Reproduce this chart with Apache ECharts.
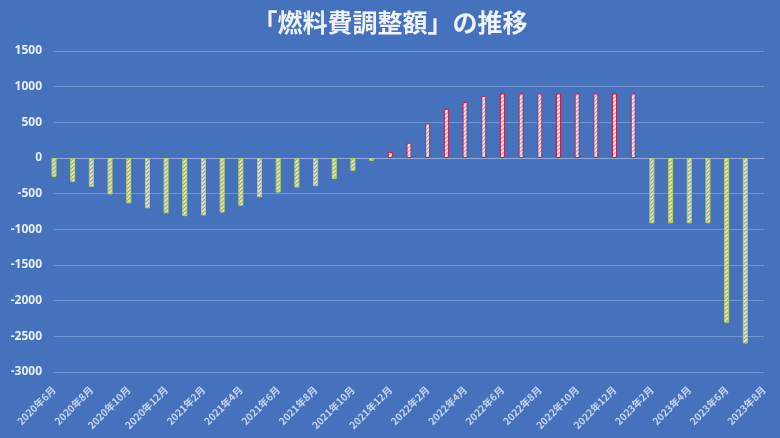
<!DOCTYPE html>
<html>
<head>
<meta charset="utf-8">
<script src="https://cdn.jsdelivr.net/npm/echarts@6/dist/echarts.min.js"></script>
<style>
html,body{margin:0;padding:0;background:#4672bd;}
#c{width:780px;height:438px;}
</style>
</head>
<body>
<div id="c"></div>
<script>
const categories = [
  '2020年6月','2020年7月','2020年8月','2020年9月','2020年10月','2020年11月','2020年12月',
  '2021年1月','2021年2月','2021年3月','2021年4月','2021年5月','2021年6月','2021年7月','2021年8月','2021年9月','2021年10月','2021年11月','2021年12月',
  '2022年1月','2022年2月','2022年3月','2022年4月','2022年5月','2022年6月','2022年7月','2022年8月','2022年9月','2022年10月','2022年11月','2022年12月',
  '2023年1月','2023年2月','2023年3月','2023年4月','2023年5月','2023年6月','2023年7月','2023年8月'
];
// 2020年6月 … 2020年12月
const adj2020 = [-265, -335, -405, -510, -635, -705, -775];
// 2021年1月 … 2021年12月
const adj2021 = [-815, -805, -765, -670, -550, -485, -415, -395, -295, -180, -40, 85];
// 2022年1月 … 2022年12月
const adj2022 = [215, 485, 690, 785, 870, 905, 905, 905, 905, 905, 905, 905];
// 2023年1月 … 2023年8月
const adj2023 = [905, -915, -915, -915, -915, -2310, -2600, null];
const adjustment = adj2020.concat(adj2021, adj2022, adj2023);
const yTicks = { min: -3000, max: 1500, interval: 500 };
const titleText = '「燃料費調整額」の推移';

function stripes(bg, line) {
  const c = document.createElement('canvas');
  c.width = 4; c.height = 4;
  const g = c.getContext('2d');
  g.fillStyle = bg; g.fillRect(0, 0, 4, 4);
  g.strokeStyle = line; g.lineWidth = 1.3;
  g.beginPath();
  g.moveTo(-1, 5); g.lineTo(5, -1);
  g.moveTo(-1, 1); g.lineTo(1, -1);
  g.moveTo(3, 5); g.lineTo(5, 3);
  g.stroke();
  return { image: c, repeat: 'repeat' };
}

const negData = adjustment.map(v => (v !== null && v < 0) ? v : null);
const posData = adjustment.map(v => (v !== null && v >= 0) ? v : null);

const chart = echarts.init(document.getElementById('c'), null, { renderer: 'canvas' });
chart.setOption({
  backgroundColor: '#4672bd',
  animation: false,
  title: {
    text: titleText,
    left: 'center',
    top: 5,
    textStyle: { color: '#eef2fa', fontSize: 25, fontWeight: 'bold', fontFamily: 'Noto Sans CJK JP' }
  },
  grid: { left: 54, right: 16, top: 51, bottom: 66, containLabel: false },
  xAxis: {
    type: 'category',
    data: categories,
    boundaryGap: false,
    axisLine: { onZero: true, lineStyle: { color: '#8fabdc', width: 1 } },
    axisTick: { show: false },
    splitLine: { show: false },
    axisLabel: {
      interval: 1,
      rotate: 45,
      color: '#c6d4ee',
      fontSize: 10,
      fontWeight: 'bold',
      fontFamily: 'Noto Sans CJK JP',
      margin: 16
    }
  },
  yAxis: {
    type: 'value',
    min: yTicks.min,
    max: yTicks.max,
    interval: yTicks.interval,
    axisLine: { show: false },
    axisTick: { show: false },
    splitLine: { lineStyle: { color: '#7396d3', width: 1 } },
    axisLabel: {
      color: '#e8eef8',
      fontSize: 12,
      fontWeight: 'bold',
      fontFamily: 'Noto Sans',
      margin: 12,
      formatter: v => String(v)
    }
  },
  series: [
    {
      type: 'bar',
      data: negData,
      barWidth: 5,
      barGap: '-100%',
      itemStyle: {
        color: stripes('#eef2b8', '#9aa7a8'),
        borderColor: '#b9d25a',
        borderWidth: 1
      }
    },
    {
      type: 'bar',
      data: posData,
      barWidth: 5,
      barGap: '-100%',
      itemStyle: {
        color: stripes('#f7eef2', '#b9a9c8'),
        borderColor: '#c81e42',
        borderWidth: 1
      }
    }
  ]
});
</script>
</body>
</html>
